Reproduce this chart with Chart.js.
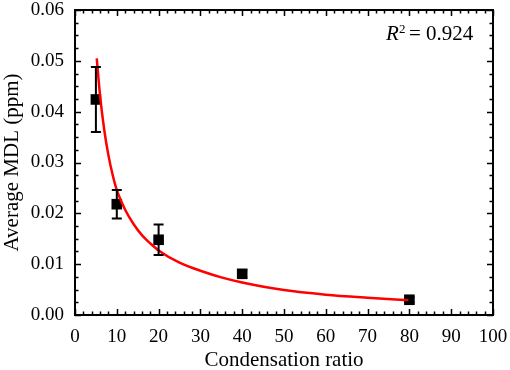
<!DOCTYPE html>
<html>
<head>
<meta charset="utf-8">
<script src="https://cdn.jsdelivr.net/npm/chart.js@4.4.1/dist/chart.umd.min.js"></script>
<style>
  html, body { margin: 0; padding: 0; background: #fff; }
  #wrap { width: 510px; height: 370px; }
</style>
</head>
<body>
<div id="wrap"><canvas id="mdlChart"></canvas></div>
<script>
// measured points (condensation ratio vs average MDL)
const ratios = [5, 10, 20, 40, 80];
const avgMdl = [0.0424, 0.0218, 0.0148, 0.0081, 0.0030];
const mdlErr = [0.0064, 0.0028, 0.0030, 0.0007, 0.0005];

// fitted curve
const fitX = [5.2, 6, 7, 8, 9, 10, 12, 14, 16, 18, 20, 25, 30, 35, 40, 50, 60, 70, 80];
const fitY = [0.0505, 0.0431, 0.0364, 0.0314, 0.0276, 0.0246, 0.0207, 0.0179, 0.0157, 0.0141, 0.0127, 0.0103, 0.0087, 0.0074, 0.0064, 0.0049, 0.0040, 0.0034, 0.0029];

const xTicks = [0, 10, 20, 30, 40, 50, 60, 70, 80, 90, 100];
const yTicks = [0, 0.01, 0.02, 0.03, 0.04, 0.05, 0.06];
const rSquared = '0.924';

const serif = "'Liberation Serif', 'Times New Roman', serif";

// frame, inward ticks, error bars and the R² note
const decorPlugin = {
  id: 'decor',
  afterDatasetsDraw(chart) {
    const { ctx, scales: { x, y } } = chart;
    ctx.save();
    ctx.strokeStyle = '#000';
    ctx.lineWidth = 2;
    ratios.forEach((r, i) => {
      const px = x.getPixelForValue(r);
      const top = y.getPixelForValue(avgMdl[i] + mdlErr[i]);
      const bot = y.getPixelForValue(avgMdl[i] - mdlErr[i]);
      ctx.beginPath();
      ctx.moveTo(px, top); ctx.lineTo(px, bot);
      ctx.moveTo(px - 5, top); ctx.lineTo(px + 5, top);
      ctx.moveTo(px - 5, bot); ctx.lineTo(px + 5, bot);
      ctx.stroke();
    });
    ctx.restore();
  },
  afterDraw(chart) {
    const { ctx, chartArea: a, scales: { x, y } } = chart;
    ctx.save();
    ctx.strokeStyle = '#000';
    ctx.lineWidth = 2;
    ctx.strokeRect(a.left, a.top, a.right - a.left, a.bottom - a.top);

    ctx.lineWidth = 1.5;
    ctx.beginPath();
    for (let v = 0; v <= 100; v += 2) {
      const px = Math.round(x.getPixelForValue(v)) + 0.5;
      const len = v % 10 === 0 ? 6 : 3.5;
      ctx.moveTo(px, a.bottom); ctx.lineTo(px, a.bottom - len);
      ctx.moveTo(px, a.top); ctx.lineTo(px, a.top + len);
    }
    for (let k = 0; k <= 24; k++) {
      const py = Math.round(y.getPixelForValue(k * 0.0025)) + 0.5;
      const len = k % 4 === 0 ? 6 : 3.5;
      ctx.moveTo(a.left, py); ctx.lineTo(a.left + len, py);
      ctx.moveTo(a.right, py); ctx.lineTo(a.right - len, py);
    }
    ctx.stroke();

    // R² = 0.924
    ctx.fillStyle = '#000';
    ctx.textBaseline = 'alphabetic';
    ctx.textAlign = 'left';
    ctx.font = 'italic 21px ' + serif;
    ctx.fillText('R', 386, 40);
    ctx.font = '13px ' + serif;
    ctx.fillText('2', 399, 33);
    ctx.font = '21px ' + serif;
    ctx.fillText('= ' + rSquared, 409, 40);
    ctx.restore();
  }
};

new Chart(document.getElementById('mdlChart'), {
  type: 'scatter',
  data: {
    datasets: [
      {
        label: 'fit',
        data: fitX.map((v, i) => ({ x: v, y: fitY[i] })),
        showLine: true,
        borderColor: '#ff0000',
        borderWidth: 2.5,
        pointRadius: 0,
        cubicInterpolationMode: 'monotone'
      },
      {
        label: 'MDL',
        data: ratios.map((v, i) => ({ x: v, y: avgMdl[i] })),
        pointStyle: 'rect',
        pointRadius: 7.5,
        backgroundColor: '#000',
        borderColor: '#000',
        borderWidth: 0
      }
    ]
  },
  options: {
    responsive: true,
    maintainAspectRatio: false,
    animation: false,
    layout: { padding: { left: 0, right: 17, top: 10, bottom: 0 } },
    plugins: { legend: { display: false }, tooltip: { enabled: false } },
    scales: {
      x: {
        type: 'linear',
        min: 0,
        max: 100,
        afterFit: (s) => { s.height = 55; s.paddingLeft = 0; s.paddingRight = 0; },
        afterBuildTicks: (s) => { s.ticks = xTicks.map((v) => ({ value: v })); },
        grid: { display: false, drawTicks: false },
        border: { display: false },
        ticks: {
          color: '#000',
          padding: 11,
          maxRotation: 0,
          font: { family: serif, size: 19 },
          callback: (v) => String(v)
        },
        title: {
          display: true,
          text: 'Condensation ratio',
          color: '#000',
          padding: { top: 0, bottom: -3 },
          font: { family: serif, size: 21 }
        }
      },
      y: {
        type: 'linear',
        min: 0,
        max: 0.06,
        afterFit: (s) => { s.width = 75; s.paddingTop = 0; s.paddingBottom = 0; },
        afterBuildTicks: (s) => { s.ticks = yTicks.map((v) => ({ value: v })); },
        grid: { display: false, drawTicks: false },
        border: { display: false },
        ticks: {
          color: '#000',
          padding: 11,
          font: { family: serif, size: 19 },
          callback: (v) => Number(v).toFixed(2)
        },
        title: {
          display: true,
          text: 'Average MDL (ppm)',
          color: '#000',
          padding: { top: 0, bottom: 0 },
          font: { family: serif, size: 21 }
        }
      }
    }
  },
  plugins: [decorPlugin]
});
</script>
</body>
</html>
